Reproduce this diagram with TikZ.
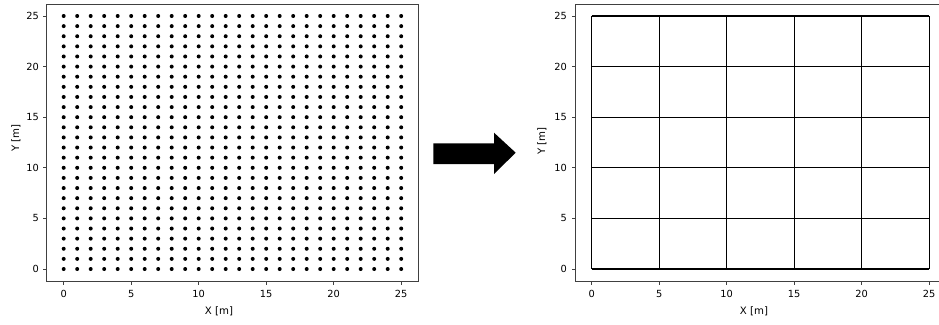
\documentclass[tikz,border=0pt]{standalone}
\usepackage{fontspec}
\setmainfont{DejaVu Sans}
\begin{document}
\begin{tikzpicture}[x=1pt,y=-1pt,
  frame/.style={draw=black!75,line width=0.9pt},
  tickmark/.style={draw=black!75,line width=0.8pt},
  ticklab/.style={font=\fontsize{9.8}{11}\selectfont,text=black,inner sep=0pt},
  axlab/.style={font=\fontsize{10.2}{12}\selectfont,text=black,inner sep=0pt},
  griddraw/.style={draw=black,line width=1.3pt},
  dot/.style={fill=black}]
\clip (0,0) rectangle (939,324);
\useasboundingbox (0,0) rectangle (939,324);
\fill[white] (0,0) rectangle (939,324);
% ---------- left plot ----------
\def\LX{63.7}\def\SX{13.5}\def\BY{269}\def\SY{10.12}
\foreach \i in {0,...,25}{
  \foreach \j in {0,...,25}{
    \fill[dot] ({\LX+\SX*\i},{\BY-\SY*\j}) circle (2);
  }
}
\draw[frame] (46,4.7) rectangle (418.7,281.3);
\foreach \v in {0,5,...,25}{
  \draw[tickmark] (46,{\BY-\SY*\v}) -- (42.5,{\BY-\SY*\v});
  \node[ticklab,anchor=east] (ly\v) at (39,{\BY-\SY*\v}) {\v};
  \draw[tickmark] ({\LX+\SX*\v},281.3) -- ({\LX+\SX*\v},284.8);
  \node[ticklab] (lx\v) at ({\LX+\SX*\v},293.5) {\v};
}
\node[axlab] (lxlabel) at (219,311) {X [m]};
\node[axlab,rotate=90] (lylabel) at (16,138) {Y [m]};
% ---------- arrow ----------
\fill[black] (433.3,143.3) -- (494,143.3) -- (494,132.7) -- (515.7,152.7)
  -- (494,174) -- (494,164) -- (433.3,164) -- cycle;
% ---------- right plot ----------
\def\RX{591.7}
\foreach \v in {0,5,...,25}{
  \draw[griddraw] ({\RX+\SX*\v},{\BY}) -- ({\RX+\SX*\v},{\BY-\SY*25});
  \draw[griddraw] ({\RX},{\BY-\SY*\v}) -- ({\RX+\SX*25},{\BY-\SY*\v});
}
\draw[frame] (575,4.7) rectangle (946,281.3);
\foreach \v in {0,5,...,25}{
  \draw[tickmark] (575,{\BY-\SY*\v}) -- (571.5,{\BY-\SY*\v});
  \node[ticklab,anchor=east] (ry\v) at (567,{\BY-\SY*\v}) {\v};
  \draw[tickmark] ({\RX+\SX*\v},281.3) -- ({\RX+\SX*\v},284.8);
  \node[ticklab] (rx\v) at ({\RX+\SX*\v},293.5) {\v};
}
\node[axlab] (rxlabel) at (754,311) {X [m]};
\node[axlab,rotate=90] (rylabel) at (542,141) {Y [m]};
\end{tikzpicture}
\end{document}
